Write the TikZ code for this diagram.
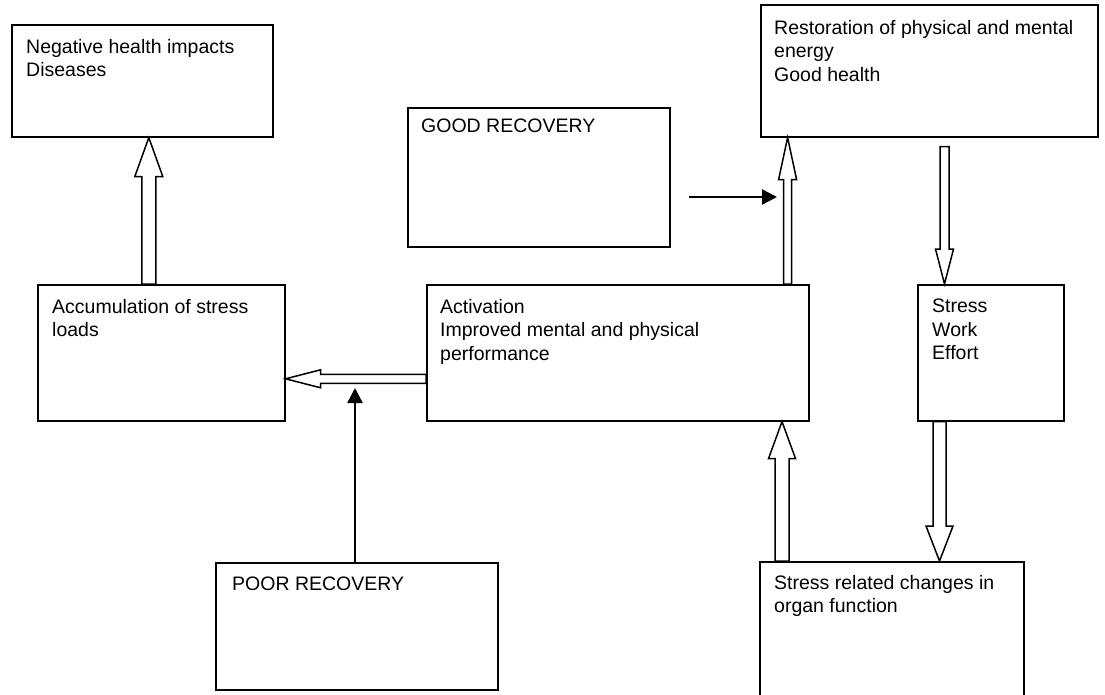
\documentclass[tikz,border=0pt]{standalone}
\usepackage{fontspec}
\setmainfont{Liberation Sans}
\usetikzlibrary{arrows.meta,positioning,calc}

\tikzset{
  box/.style={draw, line width=1.6pt, inner sep=0pt, anchor=north west},
  txt/.style={inner sep=0pt, anchor=north west, align=left, font=\fontsize{19.5}{23.5}\selectfont},
  blockedge/.style={draw, line width=1.5pt, fill=white, line join=miter},
  solidarrow/.style={line width=2.4pt, -{Triangle[length=15pt,width=15pt]}}
}
% hollow block arrow: tail, tip, half shaft, half head, head length
\newcommand{\blockarrow}[5]{%
  \coordinate (hb) at ($(#2)!#5!(#1)$);
  \draw[blockedge] ($(#1)!#3!90:(#2)$) -- ($(hb)!#3!-90:(#1)$) -- ($(hb)!#4!-90:(#1)$)
    -- (#2) -- ($(hb)!#4!90:(#1)$) -- ($(hb)!#3!90:(#1)$) -- ($(#1)!#3!-90:(#2)$) -- cycle;
}

\begin{document}
\begin{tikzpicture}[x=1pt,y=-1pt]
  \useasboundingbox (0,0) rectangle (1105,695);
  \clip (0,0) rectangle (1105,695);

  % boxes
  \node[box, minimum width=261pt, minimum height=112pt] (neg) at (11,24) {};
  \node[box, minimum width=337pt, minimum height=132pt] (rest) at (760,4) {};
  \node[box, minimum width=262pt, minimum height=139pt] (good) at (407,107) {};
  \node[box, minimum width=247pt, minimum height=136pt] (acc) at (37,284) {};
  \node[box, minimum width=382pt, minimum height=136pt] (act) at (426,284) {};
  \node[box, minimum width=146pt, minimum height=136pt] (stress) at (917,284) {};
  \node[box, minimum width=282pt, minimum height=127pt] (poor) at (215,562) {};
  \node[box, minimum width=264pt, minimum height=150pt] (organ) at (759,561) {};

  % texts
  \node[txt] (negtxt) at ([shift={(15,15)}]neg.north west) {Negative health impacts\\Diseases};
  \node[txt] (resttxt) at ([shift={(14,16)}]rest.north west) {Restoration of physical and mental\\energy\\Good health};
  \node[txt] (goodtxt) at ([shift={(14,12)}]good.north west) {GOOD RECOVERY};
  \node[txt] (acctxt) at ([shift={(15,15)}]acc.north west) {Accumulation of stress\\loads};
  \node[txt] (acttxt) at ([shift={(14,15)}]act.north west) {Activation\\Improved mental and physical\\performance};
  \node[txt] (stresstxt) at ([shift={(15,15)}]stress.north west) {Stress\\Work\\Effort};
  \node[txt] (poortxt) at ([shift={(17,15)}]poor.north west) {POOR RECOVERY};
  \node[txt] (organtxt) at ([shift={(15,14)}]organ.north west) {Stress related changes in\\organ function};

  % hollow arrows
  \coordinate (a1) at ([shift={(-12.5,0)}]acc.north);
  \blockarrow{a1}{neg.south -| a1}{7pt}{14pt}{39pt}
  \coordinate (a2) at ([shift={(0,26)}]act.west);
  \blockarrow{a2}{acc.east |- a2}{4.5pt}{9pt}{35pt}
  \coordinate (a5) at ([shift={(-22,0)}]act.north east);
  \blockarrow{a5}{rest.south -| a5}{4pt}{9pt}{42pt}
  \coordinate (a6) at ([shift={(27.5,0)}]stress.north west);
  \coordinate (a6t) at ($(rest.south -| a6)+(0,9)$);
  \blockarrow{a6t}{a6}{4.5pt}{9pt}{35pt}
  \coordinate (a7) at ([shift={(22.5,0)}]stress.south west);
  \blockarrow{a7}{organ.north -| a7}{6.5pt}{13.5pt}{35pt}
  \coordinate (a8) at ([shift={(23,0)}]organ.north west);
  \blockarrow{a8}{act.south -| a8}{7pt}{13.5pt}{37pt}

  % solid arrows
  \coordinate (a3) at (355,388);
  \draw[solidarrow] (poor.north -| a3) -- (a3);
  \coordinate (a4s) at (689,197);
  \coordinate (a4e) at (777,197);
  \draw[solidarrow] (a4s) -- (a4e);
\end{tikzpicture}
\end{document}
